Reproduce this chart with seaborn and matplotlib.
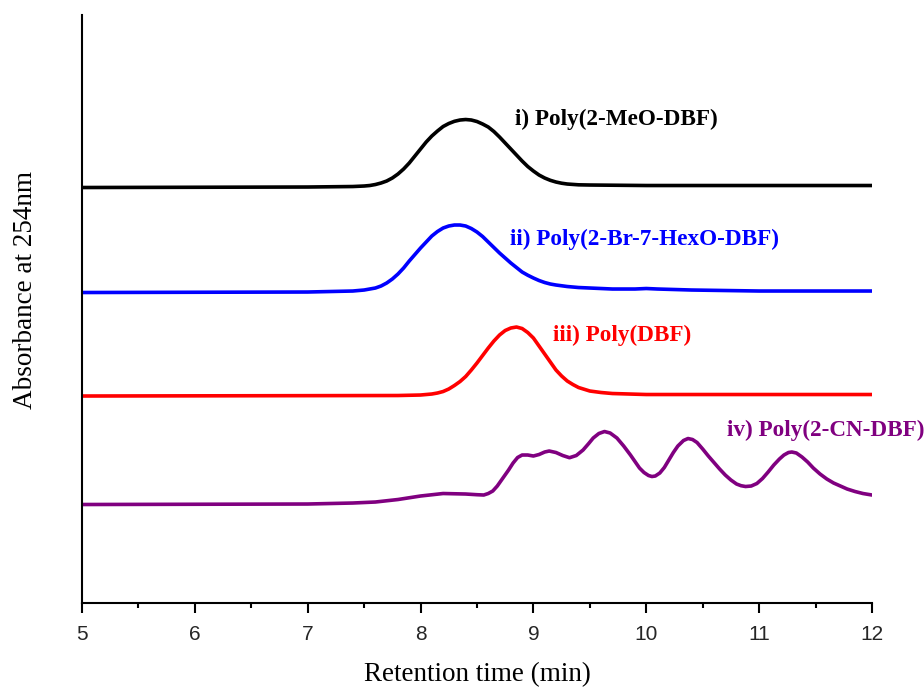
import matplotlib
matplotlib.use("Agg")
import matplotlib.pyplot as plt
import pandas as pd
import seaborn as sns
from matplotlib.ticker import MultipleLocator

# GPC traces (retention time in min, stacked absorbance in arbitrary units)
t_meo = [5.0, 7.0, 7.4, 7.5, 7.55, 7.6, 7.65, 7.7, 7.75, 7.8, 7.85, 7.9, 7.95,
         8.0, 8.05, 8.1, 8.15, 8.2, 8.25, 8.3, 8.35, 8.4, 8.45, 8.5, 8.55, 8.6,
         8.65, 8.7, 8.75, 8.8, 8.85, 8.9, 8.95, 9.0, 9.05, 9.1, 9.15, 9.2, 9.25,
         9.3, 9.4, 9.5, 10.0, 12.0]
a_meo = [415.5, 416, 416.5, 417, 417.5, 418.5, 420, 422, 425, 429, 434, 440, 447,
         454, 461, 467, 472, 476.5, 479.5, 481.7, 483, 483.5, 483, 481.5, 479, 476,
         471.5, 466, 460, 454, 448, 442, 436.5, 432, 428, 425, 422.7, 421, 419.8,
         419, 418.2, 418, 417.5, 417.5]

t_brhex = [5.0, 7.0, 7.4, 7.5, 7.55, 7.6, 7.65, 7.7, 7.75, 7.8, 7.85, 7.9, 7.95,
           8.0, 8.05, 8.1, 8.15, 8.2, 8.25, 8.3, 8.35, 8.4, 8.45, 8.5, 8.55, 8.6,
           8.65, 8.7, 8.75, 8.8, 8.85, 8.9, 8.95, 9.0, 9.05, 9.1, 9.15, 9.2, 9.3,
           9.4, 9.7, 9.9, 10.0, 10.1, 10.4, 11.0, 12.0]
a_brhex = [310.5, 311, 312, 313, 314, 315, 317, 320, 324, 329, 335, 342, 348.5,
           355, 361, 367, 371.5, 375, 377, 378, 378, 377, 374.5, 371, 366.5, 361,
           355.5, 350, 345, 340, 335.5, 331, 327.8, 325, 322.5, 320.5, 319, 318, 316.5,
           315.5, 314, 314, 314.5, 314, 313, 312, 312]

t_dbf = [5.0, 7.8, 8.0, 8.1, 8.15, 8.2, 8.25, 8.3, 8.35, 8.4, 8.45, 8.5, 8.55,
         8.6, 8.65, 8.7, 8.75, 8.8, 8.85, 8.9, 8.95, 9.0, 9.05, 9.1, 9.15, 9.2,
         9.25, 9.3, 9.35, 9.4, 9.5, 9.6, 9.7, 10.0, 12.0]
a_dbf = [207, 207.5, 208, 209, 210, 211.5, 214, 217.5, 221.5, 226.5, 233, 240, 247.5,
         255, 262, 268, 272.5, 275, 276, 274.5, 270.5, 265, 257, 249, 241, 233,
         227, 222, 218.5, 215.5, 212, 210.5, 209.5, 208.5, 208.5]

t_cn = [5.0, 7.0, 7.4, 7.6, 7.8, 8.0, 8.2, 8.4, 8.5, 8.56, 8.6, 8.64, 8.68, 8.73,
        8.78, 8.82, 8.86, 8.9, 8.95, 9.0, 9.05, 9.1, 9.14, 9.2, 9.26, 9.32, 9.38,
        9.44, 9.49, 9.53, 9.58, 9.63, 9.68, 9.74, 9.8, 9.86, 9.9, 9.94, 9.98,
        10.02, 10.05, 10.08, 10.12, 10.16, 10.2, 10.24, 10.28, 10.33, 10.37, 10.41,
        10.45, 10.5, 10.55, 10.6, 10.65, 10.7, 10.75, 10.8, 10.84, 10.88, 10.93,
        10.98, 11.03, 11.08, 11.13, 11.18, 11.22, 11.26, 11.29, 11.33, 11.38, 11.43,
        11.48, 11.54, 11.6, 11.66, 11.72, 11.78, 11.85, 11.92, 12.0]
a_cn = [98.5, 99, 100, 101, 103.5, 107, 109.5, 109, 108.3, 108, 109.5, 112, 117, 125,
        133, 140, 145.5, 148, 148, 147, 148.5, 151, 152, 150.5, 147.5, 145.3, 147.5,
        153, 159.5, 165, 169.5, 171.5, 170, 165, 157, 148, 141.5, 135, 130.5,
        127.5, 126.5, 127, 130, 135.5, 143, 150.5, 157, 162.5, 164.5, 163.5,
        160.5, 154, 147, 140.5, 134, 128, 123, 119, 117.3, 116.5, 117,
        119.5, 124.5, 131, 138, 144, 148, 150.5, 151, 150, 146, 141,
        135, 129, 124, 120, 117, 114, 111.5, 109.5, 108]

labels = ["i) Poly(2-MeO-DBF)", "ii) Poly(2-Br-7-HexO-DBF)",
          "iii) Poly(DBF)", "iv) Poly(2-CN-DBF)"]
colors = ["#000000", "#0000FF", "#FF0000", "#800080"]

frames = []
for lab, t, a in zip(labels, [t_meo, t_brhex, t_dbf, t_cn],
                     [a_meo, a_brhex, a_dbf, a_cn]):
    frames.append(pd.DataFrame({"time": t, "abs": a, "sample": lab}))
df = pd.concat(frames, ignore_index=True)

sns.set_theme(style="ticks")
plt.rcParams["font.family"] = ["Liberation Serif", "DejaVu Serif"]

fig = plt.figure(figsize=(9.24, 6.89), dpi=100)
ax = fig.add_axes([0.0887, 0.1248, 0.855, 0.8534])

sns.lineplot(data=df, x="time", y="abs", hue="sample", hue_order=labels,
             palette=colors, linewidth=2.6, legend=False, ax=ax,
             solid_joinstyle="round", solid_capstyle="round")

ax.set_xlim(5, 12)
ax.set_ylim(0, 588)
ax.xaxis.set_major_locator(MultipleLocator(1))
ax.xaxis.set_minor_locator(MultipleLocator(0.5))
ax.set_yticks([])

for side in ["top", "right"]:
    ax.spines[side].set_visible(False)
for side in ["left", "bottom"]:
    ax.spines[side].set_linewidth(1.5)
    ax.spines[side].set_color("black")

ax.tick_params(axis="x", which="major", direction="out", length=7, width=1.5,
               color="black", labelsize=15, pad=9)
ax.tick_params(axis="x", which="minor", direction="out", length=3.5, width=1.5,
               color="black")
for lbl in ax.get_xticklabels():
    lbl.set_fontfamily(["Liberation Sans", "DejaVu Sans"])

ax.set_xlabel("Retention time (min)", fontsize=19.5, color="black", labelpad=13)
ax.set_ylabel("Absorbance at 254nm", fontsize=19.5, color="black", labelpad=32)
ax.yaxis.label.set_y(0.532)

# Sample annotations next to each trace
label_pos = [(8.84, 484), (8.79, 364), (9.17, 268), (10.715, 173)]
for lab, col, (x, y) in zip(labels, colors, label_pos):
    ax.text(x, y, lab, color=col, fontsize=16.7, fontweight="bold",
            ha="left", va="center", clip_on=False)

fig.savefig("out.png", dpi=100)
